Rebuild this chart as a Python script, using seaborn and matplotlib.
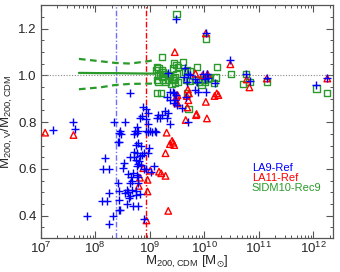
import numpy as np
import pandas as pd
import matplotlib
matplotlib.use("Agg")
import matplotlib.pyplot as plt
import matplotlib.ticker as mticker
import seaborn as sns

# log10(M200,CDM) and M200,V/M200,CDM
la9_logm = [7.22, 7.60, 7.63, 8.35, 8.41, 8.18, 8.15, 8.25, 8.41, 8.25, 8.12, 8.21, 8.44, 8.44, 7.84, 8.33, 8.26,
            8.47, 8.72, 8.77, 8.97, 9.05, 9.11, 8.44, 8.78, 8.74, 8.84, 8.99, 8.90, 8.96, 8.71, 8.77, 8.64, 8.71,
            8.82, 8.86, 8.53, 8.74, 8.80, 8.78, 8.84, 8.76, 8.50, 8.90, 8.94, 9.08, 9.02, 8.61, 8.70, 8.65, 8.76,
            8.79, 8.67, 8.64, 8.79, 8.44, 8.58, 8.61, 8.55, 8.68, 8.74, 8.64, 8.62, 8.74, 8.82, 8.58, 8.70, 8.79,
            8.46, 8.64, 8.88, 8.94, 8.97, 8.85, 9.15, 9.18, 9.13, 9.22, 9.28, 9.34, 9.31, 8.55, 8.82, 8.94, 8.97,
            8.76, 8.46, 8.73, 8.79, 8.93, 9.01, 9.10, 9.31, 9.37, 9.45, 9.48, 9.46, 9.50, 9.34, 9.65, 9.71, 9.74,
            9.63, 9.68, 9.84, 9.86, 9.98, 10.06, 10.01, 10.07, 9.84, 9.88, 10.03, 10.19, 10.48, 9.60, 9.71, 10.77,
            10.84, 11.15, 12.06, 12.26, 9.49, 10.03, 9.37, 9.43, 9.45, 9.37, 9.67, 8.90, 8.44]
la9_ratio = [0.766, 0.800, 0.769, 0.800, 0.716, 0.648, 0.598, 0.600, 0.538, 0.498, 0.464, 0.463, 0.467, 0.424, 0.396,
             0.396, 0.365, 0.751, 0.750, 0.755, 0.759, 0.759, 0.759, 0.716, 0.712, 0.702, 0.698, 0.688, 0.669, 0.667,
             0.674, 0.669, 0.652, 0.652, 0.655, 0.659, 0.627, 0.638, 0.635, 0.621, 0.617, 0.612, 0.603, 0.598, 0.598,
             0.612, 0.588, 0.578, 0.581, 0.567, 0.574, 0.567, 0.550, 0.538, 0.541, 0.507, 0.510, 0.503, 0.496, 0.510,
             0.507, 0.484, 0.474, 0.488, 0.493, 0.450, 0.441, 0.441, 0.424, 0.923, 0.866, 0.855, 0.838, 0.826, 0.830,
             0.819, 0.816, 0.830, 0.849, 0.838, 0.816, 0.800, 0.816, 0.812, 0.792, 0.778, 0.761, 0.761, 0.761, 0.761,
             0.761, 0.761, 0.909, 0.894, 0.926, 0.916, 0.897, 0.873, 1.011, 1.030, 1.008, 1.001, 0.994, 0.973, 0.987,
             0.973, 1.008, 1.008, 0.987, 0.991, 0.937, 0.930, 0.930, 0.966, 1.065, 0.859, 0.800, 1.008, 0.977, 0.991,
             0.959, 0.991, 1.244, 1.180, 0.930, 0.930, 0.883, 0.792, 0.906, 0.387, 0.752]

la11_logm = [7.08, 7.60, 9.31, 9.37, 9.41, 9.45, 9.43, 9.29, 8.88, 9.01, 9.17, 9.21, 9.29, 8.82, 8.96, 8.80, 8.96,
             9.34, 8.94, 9.49, 9.49, 9.46, 10.48, 9.84, 9.70, 9.72, 9.68, 9.51, 9.71, 10.23, 10.19, 10.26, 10.03,
             9.86, 10.05, 9.66, 9.97, 10.06, 10.78, 10.83, 11.15, 12.26, 9.51, 9.69, 9.85, 10.03]
la11_ratio = [0.755, 0.745, 0.755, 0.706, 0.720, 0.702, 0.712, 0.667, 0.603, 0.592, 0.588, 0.581, 0.570, 0.562, 0.553,
              0.527, 0.503, 0.420, 0.379, 0.909, 0.887, 1.100, 1.048, 1.008, 0.940, 0.923, 0.912, 0.916, 0.894, 0.923,
              0.912, 0.916, 0.887, 0.835, 0.816, 0.809, 1.001, 1.006, 0.983, 0.949, 0.987, 0.987, 0.880, 0.863, 0.830,
              1.180]

sidm_logm = [9.22, 9.45, 9.13, 9.16, 9.11, 9.13, 9.20, 9.22, 9.25, 9.28, 9.33, 9.37, 9.19, 9.15, 9.22, 9.13, 9.16,
             9.25, 9.29, 9.34, 9.42, 9.46, 9.49, 9.40, 9.52, 9.49, 10.03, 10.24, 9.87, 9.61, 9.49, 9.42, 9.65, 9.67,
             9.73, 9.84, 9.90, 9.96, 10.02, 10.08, 10.21, 9.45, 9.47, 10.18, 10.49, 10.77, 10.71, 10.83, 11.15,
             12.06, 12.26, 9.69, 9.71, 9.74, 9.68, 9.52, 9.95, 10.00, 10.06]
sidm_ratio = [1.080, 1.051, 1.037, 1.030, 1.023, 0.924, 0.924, 1.023, 1.015, 1.008, 1.001, 0.997, 1.008, 1.001, 0.994,
              0.980, 0.973, 0.983, 0.973, 0.980, 0.987, 0.994, 1.008, 0.966, 0.973, 1.265, 1.158, 1.037, 1.037, 1.058,
              1.044, 1.030, 1.015, 0.980, 0.977, 0.980, 0.973, 0.980, 0.973, 0.991, 0.991, 0.980, 0.968, 0.968, 1.008,
              1.006, 0.963, 0.973, 0.973, 0.944, 0.926, 0.926, 0.855, 1.020, 1.023, 1.037, 0.959, 0.983, 0.987]

# running median and scatter of the SIDM sample
band_logm = [7.70, 8.09, 8.36, 8.64, 9.00, 9.10]
band_med = [1.011, 1.010, 1.010, 1.009, 1.008, 1.008]
band_hi = [1.071, 1.061, 1.054, 1.051, 1.062, 1.068]
band_lo = [0.941, 0.949, 0.959, 0.964, 0.965, 0.966]

# resolution limits
vline_la9 = 2.4e8
vline_la11 = 8.5e8

BLUE = "#0000ff"
RED = "#ff0000"
GREEN = "#2a9a2a"

sns.set_style("ticks")
plt.rcParams['font.family'] = ['Liberation Sans', 'DejaVu Sans']
plt.rcParams['mathtext.default'] = 'regular'

fig = plt.figure(figsize=(3.4, 2.72), dpi=100)
ax = fig.add_axes([0.12, 0.126, 0.859, 0.854])

df9 = pd.DataFrame({"m": 10 ** np.array(la9_logm), "r": la9_ratio})
df11 = pd.DataFrame({"m": 10 ** np.array(la11_logm), "r": la11_ratio})
dfs = pd.DataFrame({"m": 10 ** np.array(sidm_logm), "r": sidm_ratio})
band = pd.DataFrame({"m": 10 ** np.array(band_logm), "med": band_med, "hi": band_hi, "lo": band_lo})

ax.axhline(1.0, color="#888888", lw=0.8, ls=(0, (1, 1.5)), zorder=1)
ax.axvline(vline_la9, color="#7070ff", lw=1.0, ls=(0, (4, 1.5, 1, 1.5)), zorder=1)
ax.axvline(vline_la11, color=RED, lw=1.0, ls=(0, (4, 1.5, 1, 1.5)), zorder=1)

sns.lineplot(data=band, x="m", y="med", color=GREEN, lw=1.6, ax=ax)
sns.lineplot(data=band, x="m", y="hi", color=GREEN, lw=1.6, ls=(0, (3, 2)), ax=ax)
sns.lineplot(data=band, x="m", y="lo", color=GREEN, lw=1.6, ls=(0, (3, 2)), ax=ax)

sns.scatterplot(data=dfs, x="m", y="r", marker="s", s=20, facecolors="none", edgecolor=GREEN, linewidth=1.0, ax=ax, zorder=3)
sns.scatterplot(data=df11, x="m", y="r", marker="^", s=22, facecolors="none", edgecolor=RED, linewidth=1.0, ax=ax, zorder=4)
sns.scatterplot(data=df9, x="m", y="r", marker="+", s=36, color=BLUE, linewidth=1.0, ax=ax, zorder=5)

ax.set_xscale("log")
ax.set_xlim(1e7, 2.3e12)
ax.set_ylim(0.305, 1.30)

ax.xaxis.set_major_locator(mticker.LogLocator(base=10, numticks=10))
ax.xaxis.set_minor_locator(mticker.LogLocator(base=10, subs=np.arange(2, 10), numticks=20))
ax.xaxis.set_minor_formatter(mticker.NullFormatter())
ax.yaxis.set_major_locator(mticker.MultipleLocator(0.2))
ax.yaxis.set_minor_locator(mticker.MultipleLocator(0.05))
ax.yaxis.set_major_formatter(mticker.FormatStrFormatter("%.1f"))

ax.tick_params(which="both", direction="in", top=True, right=True, color="#555555", labelsize=9.5)
ax.tick_params(axis="x", pad=2)
ax.tick_params(axis="y", pad=3)
ax.tick_params(which="major", length=5, width=0.8)
ax.tick_params(which="minor", length=2.5, width=0.7)
for sp in ax.spines.values():
    sp.set_color("#555555")
    sp.set_linewidth(0.9)

ax.set_xlabel(r"M$_{200,CDM}$ [M$_{\odot}$]", fontsize=9.5, labelpad=-1)
ax.set_ylabel(r"M$_{200,V}$/M$_{200,CDM}$", fontsize=9.5, labelpad=2)

ax.text(0.723, 0.300, "LA9-Ref", color=BLUE, fontsize=8, transform=ax.transAxes, va="center")
ax.text(0.723, 0.257, "LA11-Ref", color=RED, fontsize=8, transform=ax.transAxes, va="center")
ax.text(0.723, 0.214, "SIDM10-Rec9", color=GREEN, fontsize=8, transform=ax.transAxes, va="center")

fig.savefig("out.png", dpi=100)
